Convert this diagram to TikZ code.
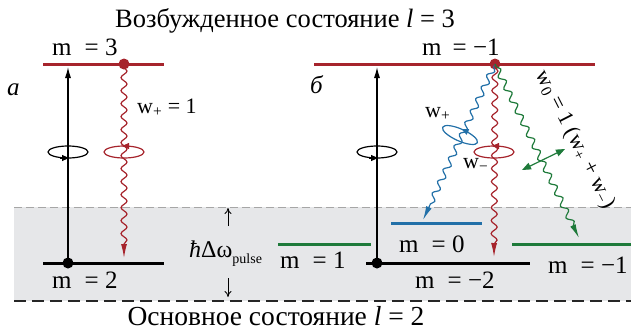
\documentclass[tikz,border=0pt]{standalone}
\usepackage{fontspec}
\setmainfont{Liberation Serif}
\usetikzlibrary{decorations.pathmorphing,arrows.meta}
\definecolor{lred}{RGB}{166,36,44}
\definecolor{lblue}{RGB}{34,112,168}
\definecolor{lgreen}{RGB}{30,122,58}
\definecolor{bandgray}{RGB}{230,231,233}
\begin{document}
\begin{tikzpicture}[x=1pt,y=-1pt,
  lvl/.style={line width=3pt},
  wavy/.style={line width=1.2pt, decorate, decoration={snake, amplitude=3pt, segment length=13pt, pre length=3pt, post length=12pt}, -{Latex[length=14pt,width=6pt]}},
  lbl/.style={font=\fontsize{25}{30}\selectfont, inner sep=0pt, anchor=base west},
  ttl/.style={font=\fontsize{26.5}{30}\selectfont, inner sep=0pt},
  wlbl/.style={font=\fontsize{22}{26}\selectfont, inner sep=0pt, anchor=base west},
  dotn/.style={circle, fill, inner sep=0pt, minimum size=11pt},
  uparrow/.style={line width=1.2pt, -{Latex[length=11pt,width=6pt]}},
  spin/.style={line width=1.2pt},
  spintip/.style={-{Triangle[length=7pt,width=6pt]}, line width=0.8pt},
  dimarrow/.style={line width=0.8pt, -{To[length=6pt,width=7pt]}}
]
\useasboundingbox (0,0) rectangle (631,335);
% ground-state band
\fill[bandgray] (14,207) rectangle (631,301);
\coordinate (bandTL) at (14,207); \coordinate (bandTR) at (631,207);
\coordinate (bandBL) at (14,301); \coordinate (bandBR) at (631,301);
\draw[black!35, line width=1pt, dash pattern=on 8pt off 4pt] (bandTL) -- (bandTR);
\draw[black!85, line width=1.4pt, dash pattern=on 12pt off 6pt] (bandBL) -- (bandBR);

% titles
\node[ttl, anchor=base west] (top) at (115,27) {Возбужденное состояние \textit{l} = 3};
\node[ttl, anchor=base, font=\fontsize{27.5}{30}\selectfont] (bot) at (276,325) {Основное состояние \textit{l} = 2};

% ---------- panel a ----------
\node[lbl] (pa) at (7,95) {\textit{а}};
\coordinate (aTL) at (43,64); \coordinate (aTR) at (164,64);
\coordinate (aBL) at (43,263); \coordinate (aBR) at (164,263);
\draw[lvl, lred] (aTL) -- (aTR);
\draw[lvl, black] (aBL) -- (aBR);
\node[lbl] (m3) at (52,55) {m\hspace{13pt}= 3};
\node[lbl] (m2) at (52,288) {m\hspace{13pt}= 2};
\node[dotn, lred] (aDot) at (124,64) {};
\node[dotn, black] (aGnd) at (68,263) {};
\coordinate (aUp) at (68,67);
\draw[uparrow] (aGnd.center) -- (aUp);
\coordinate (aTip) at (124,258);
\draw[wavy, lred] (aDot.center) -- (aTip);
\node[wlbl] (wpa) at (137,113) {w\textsubscript{+} = 1};
% spin ellipses
\draw[spin] (68,152) ellipse [x radius=20pt, y radius=6pt];
\draw[spintip] (60,158) -- (69,158);
\draw[spin, lred] (124,152) ellipse [x radius=20pt, y radius=6pt];
\draw[spintip, lred] (131,146) -- (122,146);

% delta omega
\node[font=\fontsize{24}{28}\selectfont, inner sep=0pt, anchor=base west] (dw) at (189,257) {\textit{ħ}Δω\raisebox{-0.25em}{\fontsize{14}{16}\selectfont pulse}};
\coordinate (dwU1) at (228,226); \coordinate (dwU2) at (228,208);
\coordinate (dwD1) at (228,278); \coordinate (dwD2) at (228,297);
\draw[dimarrow] (dwU1) -- (dwU2);
\draw[dimarrow] (dwD1) -- (dwD2);

% ---------- panel b ----------
\node[lbl] (pb) at (310,93) {\textit{б}};
\coordinate (bTL) at (314,64); \coordinate (bTR) at (595,64);
\coordinate (bBL) at (366,263); \coordinate (bBR) at (530,263);
\coordinate (g1L) at (278,244); \coordinate (g1R) at (371,244);
\coordinate (g2L) at (512,244); \coordinate (g2R) at (631,244);
\coordinate (b0L) at (391,223); \coordinate (b0R) at (482,223);
\draw[lvl, lred] (bTL) -- (bTR);
\draw[lvl, black] (bBL) -- (bBR);
\draw[lvl, lgreen] (g1L) -- (g1R);
\draw[lvl, lgreen] (g2L) -- (g2R);
\draw[lvl, lblue] (b0L) -- (b0R);
\node[lbl] (mm1t) at (422,55) {m\hspace{11pt}= −1};
\node[lbl] (m1) at (280,268) {m\hspace{13pt}= 1};
\node[lbl] (m0) at (399,252) {m\hspace{13pt}= 0};
\node[lbl] (mm2) at (415,288) {m\hspace{13pt}= −2};
\node[lbl] (mm1) at (548,273) {m\hspace{13pt}= −1};
\node[dotn, lred] (bDot) at (495,64) {};
\node[dotn, black] (bGnd) at (377,263) {};
\coordinate (bUp) at (377,67);
\draw[uparrow] (bGnd.center) -- (bUp);
\coordinate (blueTip) at (423,220);
\coordinate (redTip) at (494,257);
\coordinate (greenTip) at (579,238);
\draw[wavy, lblue] (bDot.center) -- (blueTip);
\draw[wavy, lred] (bDot.center) -- (redTip);
\draw[wavy, lgreen] (bDot.center) -- (greenTip);
\node[wlbl] (wpb) at (425,117) {w\textsubscript{+}};
\node[wlbl] (wmb) at (463,168) {w\textsubscript{−}};
\node[font=\fontsize{22}{26}\selectfont, inner sep=0pt, rotate=-63] (w0) at (575,140) {w\textsubscript{0} = 1 (w\textsubscript{+} + w\textsubscript{−})};
% spin ellipses
\draw[spin] (377,152) ellipse [x radius=20pt, y radius=6pt];
\draw[spintip] (369,158) -- (378,158);
\draw[spin, lred] (494,152) ellipse [x radius=20pt, y radius=6pt];
\draw[spintip, lred] (501,146) -- (492,146);
\begin{scope}[shift={(460,135)}, rotate=-24]
  \draw[spin, lblue] (0,0) ellipse [x radius=19pt, y radius=6pt];
  \draw[spintip, lblue] (7,-6) -- (-1,-6);
\end{scope}
% linear polarisation double arrow
\coordinate (lpA) at (522,170); \coordinate (lpB) at (565,149);
\draw[line width=1.2pt, lgreen, {Triangle[length=9pt,width=7pt]}-{Triangle[length=9pt,width=7pt]}] (lpA) -- (lpB);
\end{tikzpicture}
\end{document}
